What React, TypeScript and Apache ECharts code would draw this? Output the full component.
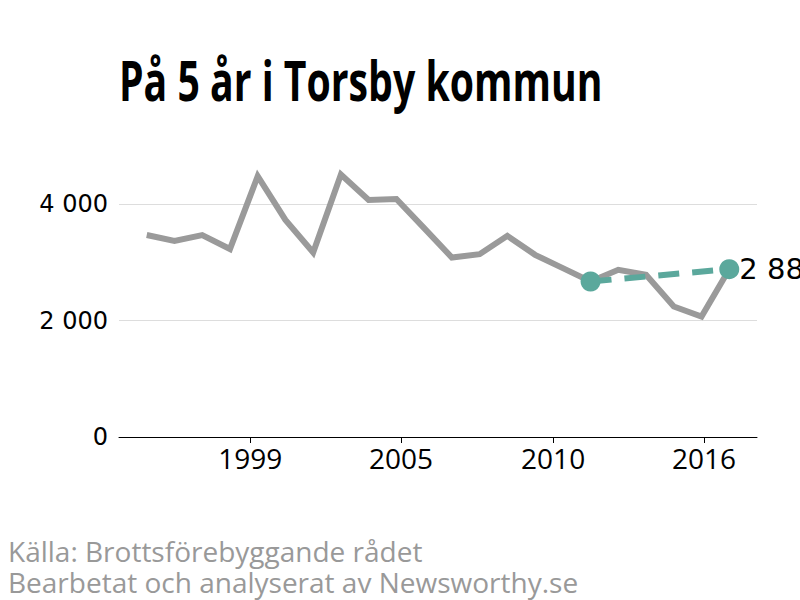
import React, { useEffect, useRef } from "react";
import * as echarts from "echarts";

const years = [1996, 1997, 1998, 1999, 2000, 2001, 2002, 2003, 2004, 2005, 2006, 2007, 2008, 2009, 2010, 2011, 2012, 2013, 2014, 2015, 2016, 2017];
const values = [3470, 3370, 3468, 3230, 4480, 3730, 3170, 4510, 4073, 4090, 3590, 3084, 3142, 3456, 3130, 2902, 2672, 2873, 2787, 2243, 2070, 2884];
const trendYears = [2012, 2017];
const xTickValues = [1999.73, 2005.17, 2010.65, 2016.09];
const xTickLabels = ["1999", "2005", "2010", "2016"];
const yTickValues = [0, 2000, 4000];
const titleText = "På 5 år i Torsby kommun";
const sourceLines = ["Källa: Brottsförebyggande rådet", "Bearbetat och analyserat av Newsworthy.se"];

const fmt = (v: number) => String(Math.round(v)).replace(/\B(?=(\d{3})+(?!\d))/g, " ");

export default function App() {
  const ref = useRef<HTMLDivElement>(null);
  useEffect(() => {
    if (!ref.current) return;
    const chart = echarts.init(ref.current, undefined, { renderer: "svg" });
    const mainData = years.map((y, i) => [y, values[i]]);
    const trendData = trendYears.map((y) => [y, values[years.indexOf(y)]]);
    chart.setOption({
      animation: false,
      backgroundColor: "#ffffff",
      grid: { left: 119, right: 43, top: 146, bottom: 163 },
      xAxis: {
        type: "value",
        min: 1995,
        max: 2018,
        axisLine: { show: true, lineStyle: { color: "#000000", width: 1 } },
        axisTick: { show: true, customValues: xTickValues, length: 6, lineStyle: { color: "#000000", width: 1 } },
        axisLabel: {
          customValues: xTickValues,
          formatter: (v: number) => {
            let best = 0;
            xTickValues.forEach((t, i) => { if (Math.abs(t - v) < Math.abs(xTickValues[best] - v)) best = i; });
            return xTickLabels[best];
          },
          fontFamily: "Open Sans",
          fontSize: 28,
          color: "#000000",
          margin: 7,
        },
        splitLine: { show: false },
      },
      yAxis: {
        type: "value",
        min: 0,
        max: 5000,
        interval: 2000,
        axisLine: { show: false },
        axisTick: { show: false },
        splitLine: { show: true, showMaxLine: false, lineStyle: { color: "#dddddd", width: 1 } },
        axisLabel: {
          showMaxLabel: false,
          formatter: (v: number) => (yTickValues.includes(v) ? fmt(v) : ""),
          fontFamily: "DejaVu Sans",
          fontSize: 24,
          color: "#000000",
          margin: 11,
        },
      },
      series: [
        {
          type: "line",
          data: mainData,
          symbol: "none",
          lineStyle: { color: "#9a9a9a", width: 6, join: "miter" },
          z: 2,
        },
        {
          type: "line",
          data: trendData,
          symbol: "circle",
          symbolSize: 20,
          itemStyle: { color: "#5ba89c" },
          lineStyle: { color: "#5ba89c", width: 6, type: [21, 13] },
          label: {
            show: true,
            position: "right",
            distance: 0,
            formatter: (p: any) => (p.dataIndex === trendData.length - 1 ? fmt(p.value[1]) : ""),
            fontFamily: "DejaVu Sans",
            fontSize: 29,
            color: "#000000",
          },
          z: 3,
        },
      ],
      graphic: [
        {
          type: "text",
          x: 119,
          y: 79,
          scaleX: 0.7,
          style: { text: titleText, font: 'bold 56px "Open Sans"', fill: "#000000", verticalAlign: "middle", align: "left" },
        },
        {
          type: "text",
          x: 8,
          y: 566.5,
          style: {
            text: sourceLines.join("\n"),
            font: '28px "Open Sans"',
            lineHeight: 31,
            fill: "#999999",
            verticalAlign: "middle",
            align: "left",
          },
        },
      ],
    });
    return () => chart.dispose();
  }, []);
  return <div ref={ref} style={{ position: "fixed", left: 0, top: 0, width: 800, height: 600 }} />;
}
